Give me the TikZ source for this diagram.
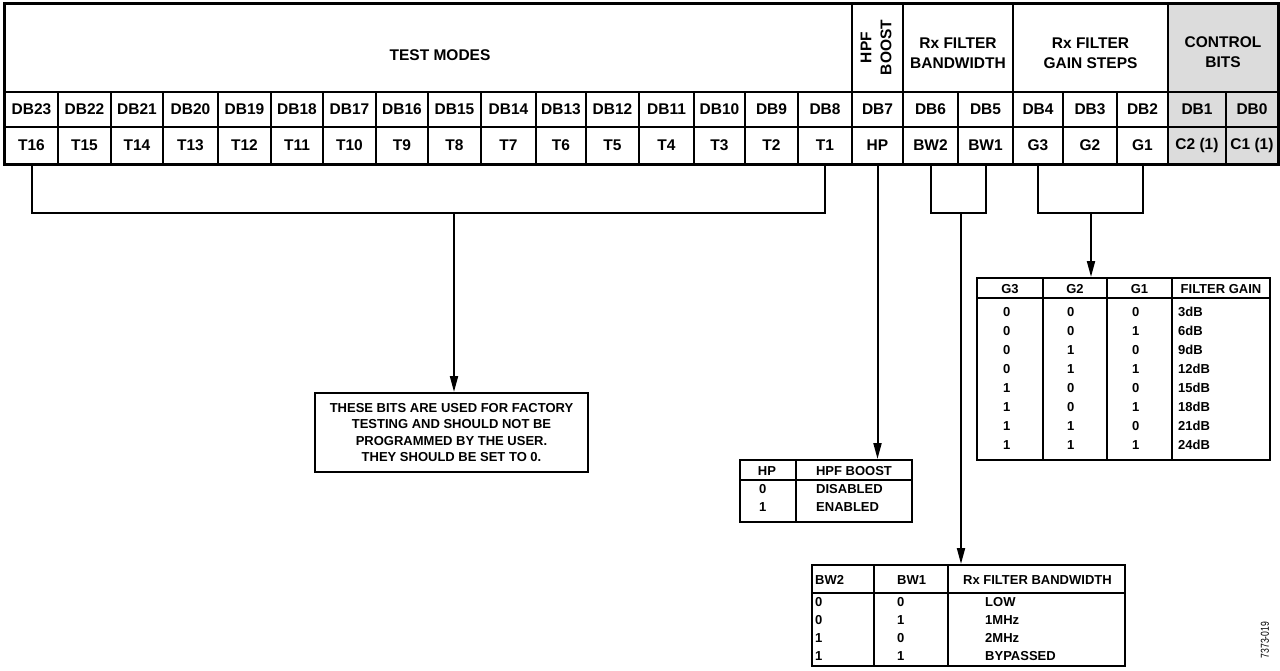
\documentclass[tikz,border=0pt]{standalone}
\usepackage{fontspec}
\setmainfont{Liberation Sans}
\usetikzlibrary{arrows.meta}
\definecolor{ctrlgray}{HTML}{DCDCDC}
\newcommand\hdrfont{\fontsize{15.5}{20}\selectfont\bfseries}
\newcommand\tabfont{\fontsize{13}{16.5}\selectfont\bfseries}
\begin{document}
\begin{tikzpicture}[x=1pt,y=-1pt,
  cell/.style={draw, line width=1.4pt, inner sep=0pt, font=\hdrfont},
  hdr/.style={inner sep=0pt, font=\hdrfont, align=center},
  conn/.style={line width=2pt},
  arr/.style={conn, -{Triangle[length=16pt,width=8pt]}},
  tframe/.style={draw, line width=2pt, inner sep=0pt},
  tline/.style={line width=1.4pt},
  tt/.style={inner sep=0pt, font=\tabfont}]
\useasboundingbox (0,0) rectangle (1280,670);

% header cells
\node[cell, minimum width=847pt, minimum height=88pt] (tm) at (428.5,48) {};
\node[cell, minimum width=51pt, minimum height=88pt] (hpf) at (877.5,48) {};
\node[cell, minimum width=110pt, minimum height=88pt] (rxbw) at (958,48) {};
\node[cell, minimum width=155pt, minimum height=88pt] (rxg) at (1090.5,48) {};
\node[cell, fill=ctrlgray, minimum width=110pt, minimum height=88pt] (ctl) at (1223,48) {};

\node[hdr] (tmt) at (440,55) {TEST MODES};
\node[hdr, rotate=90] (hpft) at (876,47.5) {HPF\\BOOST};
\node[hdr] (rxbwt) at (958,53) {Rx FILTER\\BANDWIDTH};
\node[hdr] (rxgt) at (1090.5,53) {Rx FILTER\\GAIN STEPS};
\node[hdr] (ctlt) at (1223,52) {CONTROL\\BITS};

% bit cells
\foreach \l/\r/\d/\t/\n/\f in {
5/58/DB23/T16/t16/white, 58/111/DB22/T15/t15/white, 111/163/DB21/T14/t14/white,
163/218/DB20/T13/t13/white, 218/271/DB19/T12/t12/white, 271/323/DB18/T11/t11/white,
323/376/DB17/T10/t10/white, 376/428/DB16/T9/t9/white, 428/481/DB15/T8/t8/white,
481/536/DB14/T7/t7/white, 536/586/DB13/T6/t6/white, 586/639/DB12/T5/t5/white,
639/694/DB11/T4/t4/white, 694/745/DB10/T3/t3/white, 745/798/DB9/T2/t2/white,
798/852/DB8/T1/t1/white, 852/903/DB7/HP/hp/white, 903/958/DB6/BW2/bw2/white,
958/1013/DB5/BW1/bw1/white, 1013/1063/DB4/G3/g3/white, 1063/1117/DB3/G2/g2/white,
1117/1168/DB2/G1/g1/white, 1168/1226/DB1/C2 (1)/c2/ctrlgray, 1226/1278/DB0/C1 (1)/c1/ctrlgray}
{
  \node[cell, fill=\f, minimum width={(\r-\l)*1pt}, minimum height=35pt] (d\n) at ({(\l+\r)/2},109.5) {\d};
  \node[cell, fill=\f, minimum width={(\r-\l)*1pt}, minimum height=37pt] (\n) at ({(\l+\r)/2},145.5) {\t};
}
\draw[line width=2.2pt] (tm.north west) rectangle (c1.south east);

% factory note
\node[tframe, minimum width=273pt, minimum height=79pt, align=center, font=\tabfont] (fact) at (451.5,432.5)
  {THESE BITS ARE USED FOR FACTORY\\TESTING AND SHOULD NOT BE\\PROGRAMMED BY THE USER.\\THEY SHOULD BE SET TO 0.};

% HPF table
\node[tframe, minimum width=172pt, minimum height=62pt] (hpt) at (826,491) {};
\draw[tline] (740,480) -- (912,480);
\draw[tline] (796,460) -- (796,522);
\node[tt] (hph1) at (767,471) {HP};
\node[tt] (hph2) at (854,471) {HPF BOOST};
\node[tt, anchor=west] (hpa1) at (759,489) {0};
\node[tt, anchor=west] (hpb1) at (816,489) {DISABLED};
\node[tt, anchor=west] (hpa2) at (759,507) {1};
\node[tt, anchor=west] (hpb2) at (816,507) {ENABLED};

% BW table
\node[tframe, minimum width=313pt, minimum height=101pt] (bwt) at (968.5,615.5) {};
\draw[tline] (812,593) -- (1125,593);
\draw[tline] (874,565) -- (874,666);
\draw[tline] (948,565) -- (948,666);
\node[tt, anchor=west] (bwh1) at (815,580) {BW2};
\node[tt, anchor=west] (bwh2) at (897,580) {BW1};
\node[tt, anchor=west] (bwh3) at (963,580) {Rx FILTER BANDWIDTH};
\foreach \a/\b/\v [count=\i] in {0/0/LOW, 0/1/1MHz, 1/0/2MHz, 1/1/BYPASSED}
{
  \node[tt, anchor=west] (bwa\i) at (815,{584+18*\i}) {\a};
  \node[tt, anchor=west] (bwb\i) at (897,{584+18*\i}) {\b};
  \node[tt, anchor=west] (bwc\i) at (985,{584+18*\i}) {\v};
}

% Gain table
\node[tframe, minimum width=293pt, minimum height=182pt] (gt) at (1123.5,369) {};
\draw[tline] (977,298) -- (1270,298);
\draw[tline] (1043,278) -- (1043,460);
\draw[tline] (1107,278) -- (1107,460);
\draw[tline] (1172,278) -- (1172,460);
\node[tt] (gh1) at (1010,289) {G3};
\node[tt] (gh2) at (1075,289) {G2};
\node[tt] (gh3) at (1139.5,289) {G1};
\node[tt] (gh4) at (1221,289) {FILTER GAIN};
\foreach \a/\b/\c/\v [count=\i] in {0/0/0/3dB, 0/0/1/6dB, 0/1/0/9dB, 0/1/1/12dB, 1/0/0/15dB, 1/0/1/18dB, 1/1/0/21dB, 1/1/1/24dB}
{
  \node[tt, anchor=west] (ga\i) at (1003,{293+19*\i}) {\a};
  \node[tt, anchor=west] (gb\i) at (1067,{293+19*\i}) {\b};
  \node[tt, anchor=west] (gc\i) at (1132,{293+19*\i}) {\c};
  \node[tt, anchor=west] (gd\i) at (1178,{293+19*\i}) {\v};
}

% connectors
\draw[conn] (t16.south) -- ++(0,48) -| (t1.south);
\coordinate (tmj) at (454,212);
\draw[arr] (tmj) -- (tmj |- fact.north);

\draw[arr] (hp.south) -- (hp.south |- hpt.north);

\draw[conn] (bw2.south) -- ++(0,48) -| (bw1.south);
\coordinate (bwj) at (961,212);
\draw[arr] (bwj) -- (bwj |- bwt.north);

\draw[conn] (g3.south) -- ++(0,48) -| (g1.south);
\coordinate (gj) at (1091,212);
\draw[arr] (gj) -- (gj |- gt.north);

\node[rotate=90, inner sep=0pt, font=\fontsize{11.5}{12}\selectfont] (fig) at (1265,640) {\scalebox{0.75}[1]{7373-019}};
\end{tikzpicture}
\end{document}
